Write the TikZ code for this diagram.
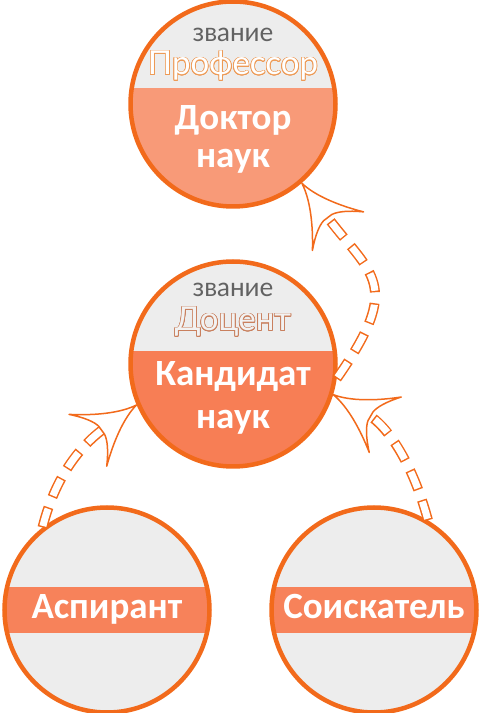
\documentclass[tikz,border=0pt]{standalone}
\usepackage{fontspec}
\setmainfont{Carlito}
\newfontfamily\rankfont{Lato}
\usepackage{contour}
\contourlength{0.7pt}
\usetikzlibrary{decorations.markings, positioning}

\definecolor{rim}{HTML}{F26A1B}
\definecolor{paper}{HTML}{EDEDED}
\definecolor{dokfill}{HTML}{F89A78}
\definecolor{kandfill}{HTML}{F77E55}
\definecolor{bandfill}{HTML}{F7825A}
\definecolor{zvgrey}{HTML}{626262}
\definecolor{profline}{HTML}{EE9A55}
\definecolor{docline}{HTML}{C9805E}
\definecolor{docfill}{HTML}{F2F2F2}

\tikzset{
  degree/.style={circle, draw=rim, line width=4.5pt, fill=paper, minimum size=205pt, inner sep=0pt},
  lower/.style 2 args={path picture={\fill[#1] ([yshift=#2]path picture bounding box.west) rectangle (path picture bounding box.south east);}},
  band/.style={path picture={\fill[bandfill] ([yshift=23pt]path picture bounding box.west) rectangle ([yshift=-23pt]path picture bounding box.east);}},
  zvanie/.style={anchor=base, text=zvgrey, font=\rankfont\fontsize{26}{26}\selectfont},
  rank/.style={anchor=base, font=\rankfont\fontsize{33}{33}\selectfont},
  science/.style={anchor=base, text=white, font=\bfseries\fontsize{37}{37}\selectfont},
  tipshape/.style={draw=rim, line width=1.5pt, fill=white, line join=round},
  career/.style={
    postaction={draw=rim, line width=10pt, dash pattern=on 21pt off 11pt, shorten >=40pt},
    postaction={draw=white, line width=7pt, dash pattern=on 18pt off 14pt, dash phase=30.5pt, shorten >=41.5pt},
    postaction={decorate, decoration={markings, mark=at position 0.999 with {
      \draw[tipshape] (0,0) .. controls (-18,3) and (-40,16) .. (-60,32)
        .. controls (-49,20) and (-44,11) .. (-43,5) -- (-43,-5)
        .. controls (-44,-11) and (-49,-20) .. (-60,-32)
        .. controls (-40,-16) and (-18,-3) .. (0,0) -- cycle;}}}}
}

\begin{document}
\begin{tikzpicture}[x=1pt, y=1pt]
    \useasboundingbox (0,0) rectangle (482,713);
    % circles
    \node (dok) [degree, lower={dokfill}{16pt}] at (233,609) {};
    \node (kand) [degree, lower={kandfill}{12.5pt}] at (233,349) {};
    \node (asp) [degree, band] at (107,103) {};
    \node (soisk) [degree, band] at (374,103) {};
    % texts
    \node (dokzv) [zvanie] at ([yshift=62pt]dok.center) {звание};
    \node (dokrank) [rank] at ([yshift=29pt]dok.center) {\contour{profline}{\textcolor{white}{Профессор}}};
    \node (doktor) [science] at ([yshift=-26pt]dok.center) {Доктор};
    \node (doknauk) [science] at ([yshift=-64pt]dok.center) {наук};
    \node (kandzv) [zvanie] at ([yshift=67pt]kand.center) {звание};
    \node (kandrank) [rank] at ([yshift=33pt]kand.center) {\contour{docline}{\textcolor{docfill}{Доцент}}};
    \node (kandidat) [science] at ([yshift=-22pt]kand.center) {Кандидат};
    \node (kandnauk) [science] at ([yshift=-65pt]kand.center) {наук};
    \node (aspname) [science] at ([yshift=-9pt]asp.center) {Аспирант};
    \node (soiskname) [science] at ([yshift=-9pt]soisk.center) {Соискатель};
    % arrows
    \path [career] (asp.128) to [out=76, in=216] (kand.203);
    \path [career] (soisk.59) to [out=105, in=330] (kand.343);
    \path [career] (kand.352) to [out=55, in=-53, looseness=1.5] (dok.311);
\end{tikzpicture}
\end{document}
